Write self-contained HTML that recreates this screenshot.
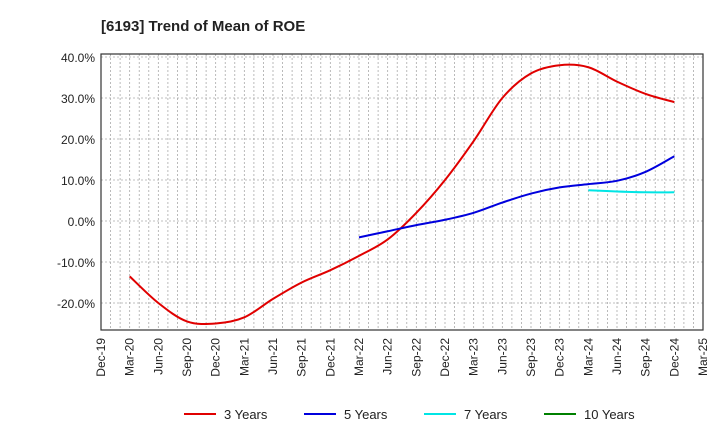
<!DOCTYPE html>
<html><head><meta charset="utf-8"><style>body{margin:0;background:#fff}svg{font-family:"Liberation Sans",sans-serif}</style></head>
<body>
<svg id="c" width="720" height="440">
<text x="101" y="31" font-size="15" font-weight="bold" fill="#222">[6193]  Trend of Mean of ROE</text>
<g id="grid"></g><g id="axes"></g><g id="series"></g><g id="legend"></g>
</svg>
<script>
const xLabels=["Dec-19","Mar-20","Jun-20","Sep-20","Dec-20","Mar-21","Jun-21","Sep-21","Dec-21","Mar-22","Jun-22","Sep-22","Dec-22","Mar-23","Jun-23","Sep-23","Dec-23","Mar-24","Jun-24","Sep-24","Dec-24","Mar-25"];
const yTicks=[-20,-10,0,10,20,30,40];
const s3=[-13.5,-20,-24.5,-25,-23.5,-19,-15,-12,-8.5,-4.5,2,10,19.5,30,36,38,37.5,34,31,29];
const s5=[-4,-2.5,-1,0.3,2,4.5,6.7,8.2,9,9.8,12,15.8];
const s7=[7.5,7.2,7.0,7.0];
const s10=[];
const NS="http://www.w3.org/2000/svg";
const L=101,R=703,T=54,B=330;
const X=q=>L+q*(R-L)/21;
const Y=v=>221-v*4.1;
function mk(tag,attrs,parent){const e=document.createElementNS(NS,tag);for(const k in attrs)e.setAttribute(k,attrs[k]);document.getElementById(parent).appendChild(e);return e;}
for(let m=1;m<63;m++){const x=L+m*(R-L)/63;const e=mk("line",{x1:x,x2:x,y1:T,y2:B,stroke:"#aaa","stroke-dasharray":"2,2","stroke-width":0.8},"grid");

}
yTicks.forEach(v=>{const e=mk("line",{x1:L,x2:R,y1:Y(v),y2:Y(v),stroke:"#aaa","stroke-dasharray":"2,2","stroke-width":0.8},"grid");


const t=mk("text",{x:L-6,y:Y(v)+5,"text-anchor":"end","font-size":12,fill:"#222"},"axes");t.textContent=v.toFixed(1)+"%";

});
const fr=mk("rect",{x:L,y:T,width:R-L,height:B-T,fill:"none",stroke:"#333","stroke-width":1.2},"axes");


xLabels.forEach((l,i)=>{const x=X(i)+4;const t=mk("text",{x:x,y:338,"text-anchor":"end","font-size":12,fill:"#222",transform:`rotate(-90 ${x} 338)`},"axes");t.textContent=l;

});
function path(vals,start){const p=vals.map((v,i)=>[X(start+i),Y(v)]);if(!p.length)return "";let d=`M${p[0][0]},${p[0][1]}`;
for(let i=0;i<p.length-1;i++){const p0=p[i-1]||p[i],p1=p[i],p2=p[i+1],p3=p[i+2]||p2;
d+=` C${p1[0]+(p2[0]-p0[0])/6},${p1[1]+(p2[1]-p0[1])/6} ${p2[0]-(p3[0]-p1[0])/6},${p2[1]-(p3[1]-p1[1])/6} ${p2[0]},${p2[1]}`;}return d;}
[[s3,1,"#e00000","series-3-years"],[s5,9,"#0000dd","series-5-years"],[s7,17,"#00e5e5","series-7-years"],[s10,20,"#008000","series-10-years"]].forEach(([v,s,c,n])=>{if(!v.length)return;const e=mk("path",{d:path(v,s),fill:"none",stroke:c,"stroke-width":2},"series");

});
[["3 Years","#e00000",184],["5 Years","#0000dd",304],["7 Years","#00e5e5",424],["10 Years","#008000",544]].forEach(([l,c,x])=>{const g=mk("g",{},"legend");


const ln=document.createElementNS(NS,"line");ln.setAttribute("x1",x);ln.setAttribute("x2",x+32);ln.setAttribute("y1",414);ln.setAttribute("y2",414);ln.setAttribute("stroke",c);ln.setAttribute("stroke-width",2);g.appendChild(ln);
const t=document.createElementNS(NS,"text");t.setAttribute("x",x+40);t.setAttribute("y",419);t.setAttribute("font-size",13);t.setAttribute("fill","#222");t.textContent=l;g.appendChild(t);});
</script>
</body></html>
